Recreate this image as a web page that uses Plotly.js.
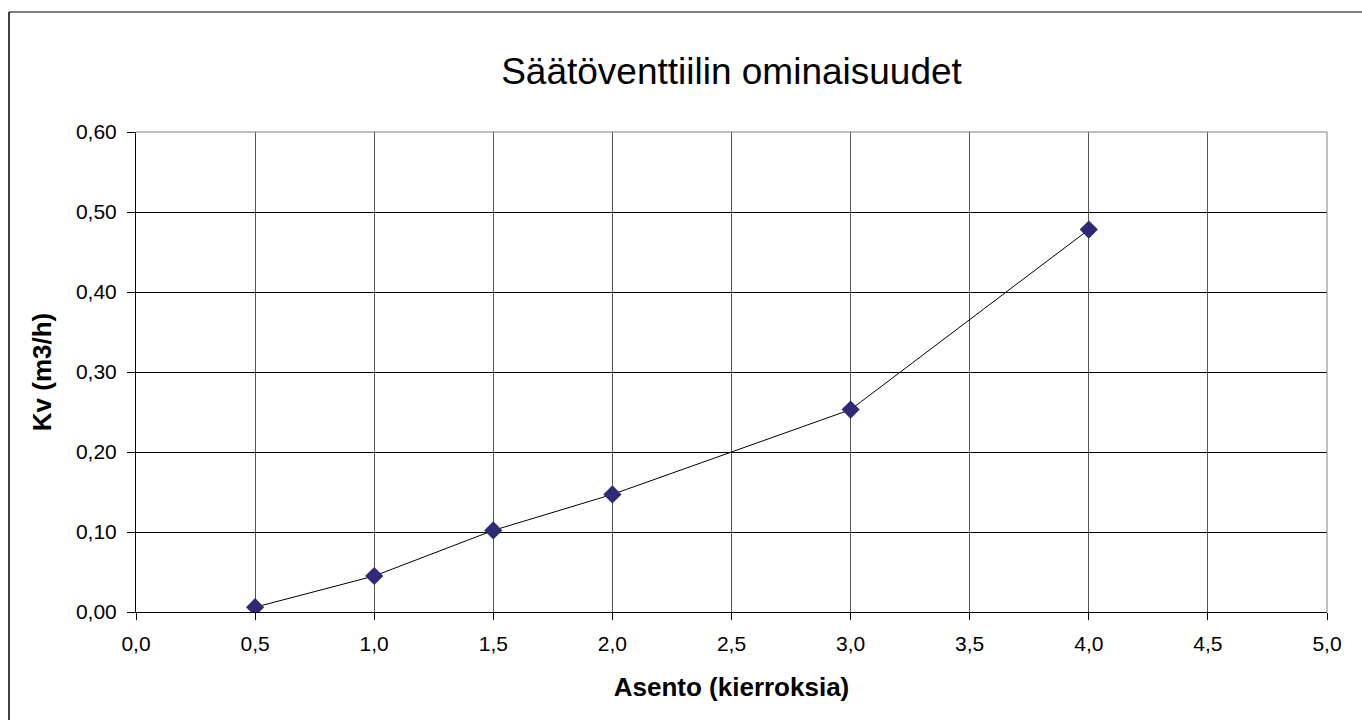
<!DOCTYPE html>
<html>
<head>
<meta charset="utf-8">
<script src="https://cdn.plot.ly/plotly-3.0.1.min.js"></script>
<style>html,body{margin:0;padding:0;background:#fff;}#chart{width:1362px;height:720px;}</style>
</head>
<body>
<div id="chart"></div>
<script>
const asento = [0.5, 1.0, 1.5, 2.0, 3.0, 4.0];
const kv = [0.006, 0.045, 0.102, 0.147, 0.253, 0.478];
const chartTitle = "Säätöventtiilin ominaisuudet";
const xTitle = "Asento (kierroksia)";
const yTitle = "Kv (m3/h)";

const FONT = "Liberation Sans, Arial, sans-serif";
const L = 136, R = 35, T = 132, B = 108, W = 1362, H = 720;
const pw = W - L - R, ph = H - T - B;
const px = v => (v - L) / pw;
const py = v => (H - B - v) / ph;

const trace = {
  x: asento, y: kv, type: 'scatter', mode: 'lines+markers',
  line: {color: '#000000', width: 1},
  marker: {symbol: 'diamond', size: 14, color: '#2e2a76', line: {width: 0}},
  hoverinfo: 'x+y', showlegend: false
};

const layout = {
  width: W, height: H,
  margin: {l: L, r: R, t: T, b: B, pad: 0},
  paper_bgcolor: '#ffffff', plot_bgcolor: '#ffffff',
  separators: ', ',
  font: {family: FONT, color: '#000000', size: 21},
  title: {text: chartTitle, font: {family: FONT, size: 37, color: '#000'},
          x: 0.5, xref: 'paper', xanchor: 'center', y: 1 - 71/720, yanchor: 'middle', yref: 'container'},
  xaxis: {
    range: [0, 5], dtick: 0.5, tick0: 0, tickformat: '.1f',
    showgrid: true, gridcolor: '#555555', gridwidth: 1,
    showline: true, linecolor: '#000000', linewidth: 1,
    ticks: 'outside', ticklen: 7, tickcolor: '#000', tickwidth: 1,
    ticklabelstandoff: 6,
    zeroline: false, tickfont: {family: FONT, size: 21, color: '#000'},
    title: {text: '<b>' + xTitle + '</b>', font: {family: FONT, size: 26, color: '#000'}, standoff: 23}
  },
  yaxis: {
    range: [0, 0.6], dtick: 0.1, tick0: 0, tickformat: '.2f',
    showgrid: true, gridcolor: '#000000', gridwidth: 1,
    showline: true, linecolor: '#000000', linewidth: 1,
    ticks: 'outside', ticklen: 8, tickcolor: '#000', tickwidth: 1,
    ticklabelstandoff: 6,
    zeroline: false, tickfont: {family: FONT, size: 21, color: '#000'},
    title: {text: '<b>' + yTitle + '</b>', font: {family: FONT, size: 26, color: '#000'}, standoff: 16}
  },
  shapes: [
    {type: 'line', xref: 'paper', yref: 'paper', x0: 0, x1: 1, y0: 1, y1: 1, line: {color: '#808080', width: 1}, layer: 'above'},
    {type: 'line', xref: 'paper', yref: 'paper', x0: 1, x1: 1, y0: 0, y1: 1, line: {color: '#808080', width: 1}, layer: 'above'},
    {type: 'line', xref: 'paper', yref: 'paper', x0: px(9), x1: px(1400), y0: py(12), y1: py(12), line: {color: '#808080', width: 2}},
    {type: 'line', xref: 'paper', yref: 'paper', x0: px(9), x1: px(9), y0: py(12), y1: py(760), line: {color: '#000000', width: 1.5}}
  ]
};

Plotly.newPlot('chart', [trace], layout, {displayModeBar: false, staticPlot: true});
</script>
</body>
</html>
